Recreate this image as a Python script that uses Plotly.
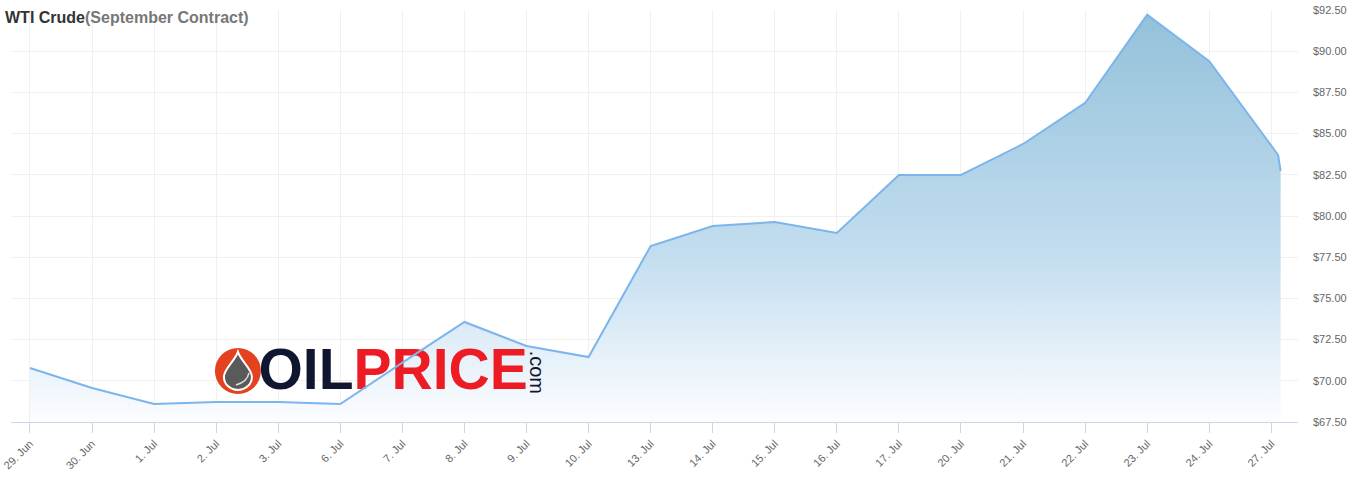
import plotly.graph_objects as go

dates = ["29. Jun", "30. Jun", "1. Jul", "2. Jul", "3. Jul", "6. Jul", "7. Jul", "8. Jul",
         "9. Jul", "10. Jul", "13. Jul", "14. Jul", "15. Jul", "16. Jul", "17. Jul",
         "20. Jul", "21. Jul", "22. Jul", "23. Jul", "24. Jul", "27. Jul"]
prices = [70.78, 69.56, 68.59, 68.71, 68.71, 68.59, 71.10, 73.57, 72.11, 71.44, 78.18,
          79.39, 79.64, 78.97, 82.49, 82.49, 84.37, 86.86, 92.22, 89.40, 83.70]
# 27. Jul quotes are intraday: time positions (in trading-day units) for the last two quotes
intraday_pos = [20.11, 20.15]
intraday_prices = [83.70, 82.73]

x_pos = list(range(len(dates) - 1)) + intraday_pos
y_val = prices[:-1] + intraday_prices

y_ticks = [67.5, 70, 72.5, 75, 77.5, 80, 82.5, 85, 87.5, 90, 92.5]

fig = go.Figure()

# area fill
fig.add_trace(go.Scatter(
    x=x_pos, y=y_val, mode="lines", line=dict(width=0, color="rgba(0,0,0,0)"),
    fill="tozeroy",
    fillgradient=dict(type="vertical", start=67.5, stop=max(y_val),
                      colorscale=[[0, "rgb(252,253,255)"], [0.4, "rgb(196,222,240)"],
                                  [1, "rgb(147,193,218)"]]),
    hoverinfo="skip", showlegend=False))

# logo text (between fill and line)
fig.add_trace(go.Scatter(
    x=[5.85], y=[70.35], mode="text",
    text=["<span style='color:#101530'>OIL</span><span style='color:#ed1c24'>PRICE</span>"],
    textposition="middle center",
    textfont=dict(family="Liberation Sans, Arial, sans-serif", size=57, weight="bold"),
    hoverinfo="skip", showlegend=False))

# line
fig.add_trace(go.Scatter(
    x=x_pos, y=y_val, mode="lines", line=dict(width=2, color="#7cb5ec"),
    showlegend=False, hovertemplate="%{y:$.2f}<extra></extra>"))

# logo icon
fig.add_shape(type="circle", xref="x", yref="y", xsizemode="pixel", ysizemode="pixel",
              xanchor=3.35, yanchor=70.6, x0=-23, x1=23, y0=-23, y1=23,
              fillcolor="#e4421f", line=dict(width=0), layer="above")
fig.add_shape(type="path", xref="x", yref="y", xsizemode="pixel", ysizemode="pixel",
              xanchor=3.35, yanchor=70.6,
              path="M 0 19 C 3 10 14 2 14 -6 C 14 -13 8 -19 0 -19 C -8 -19 -14 -13 -14 -6 C -14 2 -3 10 0 19 Z",
              fillcolor="#5a5a5a", line=dict(width=2, color="#ffffff"), layer="above")
fig.add_shape(type="path", xref="x", yref="y", xsizemode="pixel", ysizemode="pixel",
              xanchor=3.35, yanchor=70.6,
              path="M -2 -14 C 6 -12 10 -8 11 -2",
              line=dict(width=1.5, color="#dddddd"), layer="above")

fig.add_annotation(x=8.17, y=70.55, xref="x", yref="y", text=".com", textangle=90,
                   showarrow=False,
                   font=dict(family="Liberation Sans, Arial, sans-serif", size=20, color="#101530"))

fig.update_layout(
    width=1362, height=480,
    margin=dict(l=11, r=64, t=10, b=58, autoexpand=False),
    paper_bgcolor="white", plot_bgcolor="white",
    title=dict(
        text="<b><span style='color:#333333'>WTI Crude</span><span style='color:#777777'>(September Contract)</span></b>",
        x=5 / 1362, xanchor="left", xref="container",
        y=1 - 17 / 480, yanchor="middle", yref="container",
        font=dict(family="Liberation Sans, Arial, sans-serif", size=16)),
    font=dict(family="Liberation Sans, Arial, sans-serif", size=11, color="#666666"),
    hovermode="x",
)

fig.update_xaxes(
    range=[-0.306, 20.43], tickmode="array", tickvals=list(range(len(dates))), ticktext=dates,
    tickangle=-45, ticks="outside", ticklen=10, tickcolor="#ccd6eb", automargin=False,
    showline=True, linecolor="#ccd6eb", linewidth=1,
    showgrid=True, gridcolor="#f0f0f0", zeroline=False,
    tickfont=dict(size=11, color="#666666"))

fig.update_yaxes(
    range=[67.5, 92.5], side="right", tickmode="array", tickvals=y_ticks,
    ticktext=[f"${v:.2f}" for v in y_ticks], ticks="", ticklabelstandoff=14, automargin=False,
    showgrid=True, gridcolor="#f0f0f0", zeroline=False, showline=False,
    tickfont=dict(size=11, color="#666666"))

fig.write_html("out.html")
